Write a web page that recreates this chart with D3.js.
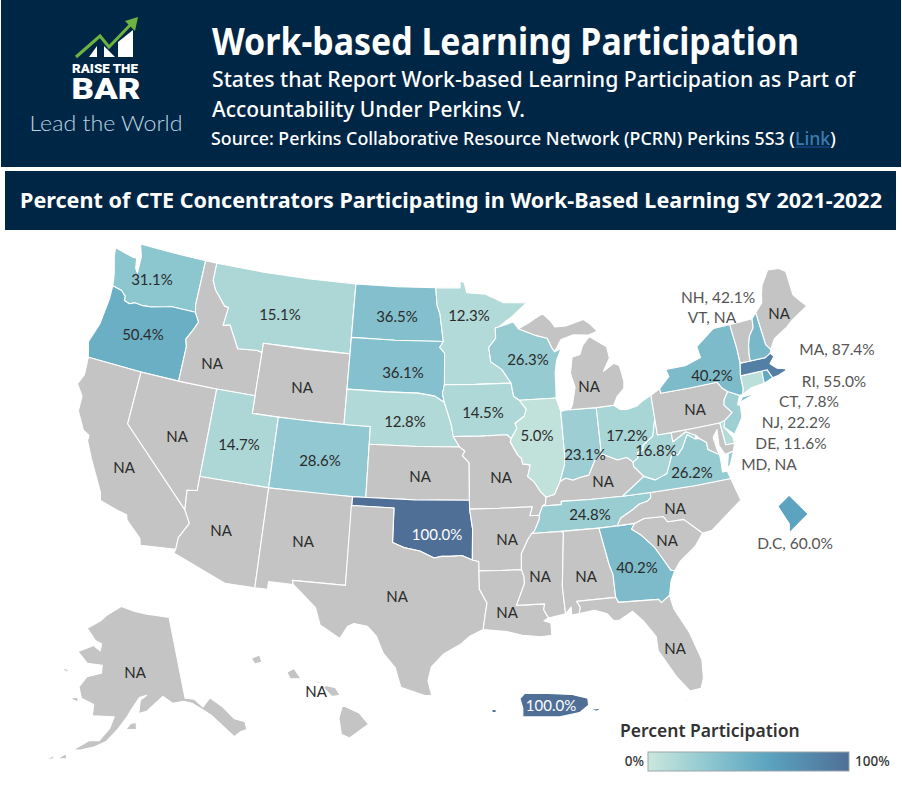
<!DOCTYPE html>
<html><head><meta charset="utf-8">
<script src="https://cdn.jsdelivr.net/npm/d3@7/dist/d3.min.js"></script>
<style>html,body{margin:0;padding:0;background:#fff}svg{display:block}</style>
</head><body><svg id="c" width="902" height="786"></svg>
<script>
// ---- DATA ----
const titleText = "Work-based Learning Participation";
const subtitleLines = ["States that Report Work-based Learning Participation as Part of","Accountability Under Perkins V."];
const chartTitle = "Percent of CTE Concentrators Participating in Work-Based Learning SY 2021-2022";
const legendTitle = "Percent Participation";
const legendTicks = ["0%","100%"];
const stateCodes = ["WA","OR","CA","NV","ID","MT","WY","UT","CO","AZ","NM","ND","SD","NE","KS","OK","TX","MN","IA","MO","AR","LA","WI","IL","IN","OH","KY","TN","MI","MS","AL","GA","FL","SC","NC","VA","WV","PA","MD","DE","NJ","NY","CT","RI","MA","VT","NH","ME","AK","HI","PR","DC"];
const stateValues = [31.1,50.4,null,null,null,15.1,null,14.7,28.6,null,null,36.5,36.1,12.8,null,100,null,12.3,14.5,null,null,null,26.3,5.0,23.1,17.2,null,24.8,null,null,null,40.2,null,null,null,26.2,16.8,null,null,11.6,22.2,40.2,7.8,55.0,87.4,null,42.1,null,null,null,100,60.0];
const outlines = {
WA:[[[-124.7,48.38],[-123.1,48.15],[-122.75,48.15],[-122.6,47.6],[-122.35,47.35],[-122.4,48.3],[-122.76,49],[-120,49],[-117.03,49],[-117.04,46.42],[-116.92,46],[-118.98,46],[-119.3,45.93],[-120.5,45.7],[-121.2,45.65],[-121.9,45.68],[-122.3,45.55],[-122.75,45.65],[-122.8,45.9],[-123.2,46.15],[-124,46.27],[-124.1,46.7],[-124.2,47],[-124.6,47.9]]],
OR:[[[-124,46.27],[-123.2,46.15],[-122.8,45.9],[-122.75,45.65],[-122.3,45.55],[-121.9,45.68],[-121.2,45.65],[-120.5,45.7],[-119.3,45.93],[-118.98,46],[-116.92,46],[-116.5,45.5],[-116.85,44.9],[-117.2,44.4],[-117.03,44],[-117.03,42],[-120,42],[-124.2,42],[-124.55,42.85],[-124.1,44],[-123.95,45.5]]],
CA:[[[-124.2,42],[-120,42],[-120,39],[-114.63,35],[-114.14,34.3],[-114.7,33.4],[-114.72,32.72],[-117.12,32.53],[-117.25,32.9],[-118.4,33.75],[-118.5,34.03],[-119.2,34.15],[-120.5,34.45],[-120.65,34.9],[-121.9,36.6],[-122.5,37.5],[-122.5,37.8],[-123,38],[-123.75,38.95],[-123.8,39.8],[-124.4,40.4],[-124.1,41]]],
NV:[[[-120,42],[-117.03,42],[-114.04,42],[-114.04,37],[-114.04,36.2],[-114.75,36.1],[-114.63,35],[-120,39]]],
ID:[[[-117.03,49],[-116.05,49],[-116.05,48],[-115.7,47.5],[-114.7,46.7],[-114.35,46.65],[-114.5,45.6],[-113.95,45.7],[-113.45,45.05],[-113,44.45],[-111.5,44.55],[-111.05,44.48],[-111.05,42],[-114.04,42],[-117.03,42],[-117.03,44],[-117.2,44.4],[-116.85,44.9],[-116.5,45.5],[-116.92,46],[-117.04,46.42]]],
MT:[[[-116.05,49],[-112,49],[-108,49],[-104.05,49],[-104.05,45.94],[-104.05,45],[-111.05,45],[-111.05,44.48],[-111.5,44.55],[-113,44.45],[-113.45,45.05],[-113.95,45.7],[-114.5,45.6],[-114.35,46.65],[-114.7,46.7],[-115.7,47.5],[-116.05,48]]],
WY:[[[-111.05,45],[-107.5,45],[-104.05,45],[-104.05,41],[-107.5,41],[-111.05,41]]],
UT:[[[-114.04,42],[-111.05,42],[-111.05,41],[-109.05,41],[-109.05,37],[-114.04,37]]],
CO:[[[-109.05,41],[-105.5,41],[-102.05,41],[-102.05,37],[-105.5,37],[-109.05,37]]],
AZ:[[[-114.75,36.1],[-114.04,36.2],[-114.04,37],[-109.05,37],[-109.05,31.33],[-111.07,31.33],[-114.8,32.5],[-114.72,32.72],[-114.7,33.4],[-114.14,34.3],[-114.63,35]]],
NM:[[[-109.05,37],[-103,37],[-103.04,32],[-106.62,32],[-106.53,31.78],[-108.2,31.78],[-108.2,31.33],[-109.05,31.33]]],
ND:[[[-104.05,49],[-100.5,49],[-97.23,49],[-97.1,48],[-96.85,47.5],[-96.56,45.94],[-100.5,45.94],[-104.05,45.94]]],
SD:[[[-104.05,45.94],[-100.5,45.94],[-96.56,45.94],[-96.85,45.6],[-96.45,45.3],[-96.45,43.5],[-96.6,43],[-96.45,42.49],[-97.2,42.85],[-98.5,43],[-101,43],[-104.05,43],[-104.05,45]]],
NE:[[[-104.05,43],[-101,43],[-98.5,43],[-97.2,42.85],[-96.45,42.49],[-96.1,41.7],[-95.9,41.2],[-95.77,40.58],[-95.3,40],[-98.5,40],[-102.05,40],[-102.05,41],[-104.05,41]]],
KS:[[[-102.05,40],[-98.5,40],[-95.3,40],[-94.9,39.75],[-95.1,39.5],[-94.6,39.1],[-94.62,37],[-98.5,37],[-102.05,37]]],
OK:[[[-103,37],[-98.5,37],[-94.62,37],[-94.62,36.5],[-94.43,35.4],[-94.48,33.64],[-95.2,33.9],[-96,33.85],[-96.6,33.85],[-97.1,33.75],[-97.7,33.98],[-98.1,34.13],[-99.2,34.3],[-100,34.56],[-100,36.5],[-103,36.5]]],
TX:[[[-103.04,36.5],[-100,36.5],[-100,34.56],[-99.2,34.3],[-98.1,34.13],[-97.7,33.98],[-97.1,33.75],[-96.6,33.85],[-96,33.85],[-95.2,33.9],[-94.48,33.64],[-94.04,33.55],[-94.04,33.02],[-94.04,31.99],[-93.55,31.2],[-93.7,30.5],[-93.84,29.7],[-94.7,29.35],[-95.3,28.9],[-96.4,28.35],[-97.2,27.6],[-97.4,26.8],[-97.15,25.96],[-97.6,25.95],[-99.1,26.4],[-99.5,27.5],[-100.3,28.3],[-100.8,29.25],[-101.4,29.77],[-102.3,29.88],[-102.7,29.7],[-103.15,28.98],[-104.5,29.65],[-104.9,30.6],[-106.53,31.78],[-106.62,32],[-103.04,32]]],
MN:[[[-97.23,49],[-95.15,49],[-95.15,49.38],[-94.8,49.3],[-94.6,48.72],[-93,48.6],[-91.5,48.08],[-89.6,48],[-90.8,47.3],[-92.01,46.71],[-92.29,46.66],[-92.29,46.07],[-92.88,45.57],[-92.75,44.75],[-91.9,44.3],[-91.22,43.5],[-94,43.5],[-96.45,43.5],[-96.45,45.3],[-96.85,45.6],[-96.56,45.94],[-96.85,47.5],[-97.1,48]]],
IA:[[[-96.45,43.5],[-94,43.5],[-91.22,43.5],[-91.07,42.75],[-90.64,42.51],[-90.15,41.98],[-90.34,41.6],[-91.07,41.23],[-90.95,40.95],[-91.42,40.38],[-91.73,40.61],[-93.7,40.58],[-95.77,40.58],[-95.9,41.2],[-96.1,41.7],[-96.45,42.49],[-96.6,43]]],
MO:[[[-95.77,40.58],[-93.7,40.58],[-91.73,40.61],[-91.42,40.38],[-91.5,40.2],[-91,39.45],[-90.73,39.25],[-90.67,38.93],[-90.12,38.85],[-90.2,38.6],[-90.35,38.2],[-89.9,37.88],[-89.5,37.33],[-89.13,36.98],[-89.2,36.6],[-89.42,36.5],[-89.7,36],[-90.37,36],[-90.15,36.5],[-92.5,36.5],[-94.62,36.5],[-94.62,37],[-94.6,39.1],[-95.1,39.5],[-94.9,39.75],[-95.3,40]]],
AR:[[[-94.62,36.5],[-92.5,36.5],[-90.15,36.5],[-90.37,36],[-89.7,36],[-89.7,35.8],[-90.1,35.13],[-90.3,35],[-90.58,34.7],[-91.1,33.9],[-91.15,33],[-92.5,33],[-94.04,33.02],[-94.04,33.55],[-94.48,33.64],[-94.43,35.4]]],
LA:[[[-94.04,33.02],[-92.5,33],[-91.15,33],[-91,32.6],[-91,32.2],[-91.6,31],[-89.73,31],[-89.82,30.67],[-89.53,30.18],[-89.85,30.05],[-89.4,29.9],[-89.4,29.2],[-90.1,29.15],[-91.3,29.3],[-92.3,29.55],[-93.84,29.7],[-93.7,30.5],[-93.55,31.2],[-94.04,31.99]]],
WI:[[[-92.01,46.71],[-90.8,46.95],[-90.4,46.55],[-89.1,46.13],[-88.1,45.9],[-87.8,45.35],[-87.6,45.1],[-87.05,45.25],[-87.5,44.6],[-87.7,43.9],[-87.75,43],[-87.8,42.49],[-90.64,42.51],[-91.07,42.75],[-91.22,43.5],[-91.9,44.3],[-92.75,44.75],[-92.88,45.57],[-92.29,46.07],[-92.29,46.66]]],
IL:[[[-90.64,42.51],[-87.8,42.49],[-87.53,41.7],[-87.53,39.35],[-87.6,38.7],[-88.03,37.8],[-88.5,37.1],[-89.13,36.98],[-89.5,37.33],[-89.9,37.88],[-90.35,38.2],[-90.2,38.6],[-90.12,38.85],[-90.67,38.93],[-90.73,39.25],[-91,39.45],[-91.5,40.2],[-91.42,40.38],[-90.95,40.95],[-91.07,41.23],[-90.34,41.6],[-90.15,41.98]]],
IN:[[[-87.53,41.7],[-87.2,41.76],[-86.82,41.76],[-84.8,41.72],[-84.82,39.1],[-85.4,38.73],[-85.7,38.3],[-85.9,38],[-86.5,37.93],[-87.1,37.8],[-87.6,37.95],[-88.03,37.8],[-87.6,38.7],[-87.53,39.35]]],
OH:[[[-84.8,41.72],[-83.45,41.73],[-83,41.45],[-82.5,41.4],[-81.7,41.5],[-81.2,41.75],[-80.52,41.98],[-80.52,40.64],[-80.87,39.7],[-81.7,39.25],[-81.75,39],[-82.18,38.9],[-82.2,38.6],[-82.6,38.42],[-83,38.72],[-83.7,38.65],[-84.3,38.9],[-84.82,39.1]]],
KY:[[[-89.13,36.98],[-88.5,37.1],[-88.03,37.8],[-87.6,37.95],[-87.1,37.8],[-86.5,37.93],[-85.9,38],[-85.7,38.3],[-85.4,38.73],[-84.82,39.1],[-84.3,38.9],[-83.7,38.65],[-83,38.72],[-82.6,38.42],[-82.6,38.17],[-81.97,37.54],[-83.68,36.6],[-86,36.63],[-88.07,36.68],[-88.07,36.5],[-89.42,36.5],[-89.2,36.6]]],
TN:[[[-89.7,36],[-89.42,36.5],[-88.07,36.5],[-88.07,36.68],[-86,36.63],[-83.68,36.6],[-81.68,36.59],[-81.7,36.3],[-82,36.13],[-82.6,36.03],[-83.1,35.77],[-84,35.4],[-84.32,34.99],[-85.6,34.98],[-88.2,35],[-90.3,35],[-90.1,35.13],[-89.7,35.8]]],
MI:[[[-86.82,41.76],[-84.8,41.72],[-83.45,41.73],[-83.1,42.2],[-82.5,42.6],[-82.42,43],[-82.6,43.9],[-83,44.07],[-83.9,43.7],[-83.3,44.4],[-83.4,45.05],[-84.7,45.75],[-85.3,45.3],[-85.6,44.8],[-86.25,44.7],[-86.5,43.8],[-86.25,43],[-86.6,42]],[[-90.4,46.55],[-89.1,46.13],[-88.1,45.9],[-87.8,45.35],[-87.6,45.1],[-87,45.75],[-86,45.95],[-84.75,45.85],[-84,46],[-84.5,46.45],[-85,46.75],[-86.5,46.5],[-87.4,46.5],[-87.7,46.85],[-88.4,47.37],[-87.9,47.47],[-88.9,47.1],[-89.5,46.85]]],
MS:[[[-91.15,33],[-91.1,33.9],[-90.58,34.7],[-90.3,35],[-88.2,35],[-88.1,34.9],[-88.47,31.9],[-88.4,30.35],[-89.53,30.18],[-89.82,30.67],[-89.73,31],[-91.6,31],[-91,32.2],[-91,32.6]]],
AL:[[[-88.2,35],[-85.6,34.98],[-85.18,32.87],[-85,32.3],[-85,31],[-87.6,31],[-87.4,30.65],[-87.5,30.3],[-88,30.25],[-88,30.7],[-88.4,30.35],[-88.47,31.9],[-88.1,34.9]]],
GA:[[[-85.6,34.98],[-84.32,34.99],[-83.1,35],[-83.35,34.7],[-82.75,34.3],[-81.95,33.5],[-81.4,32.6],[-81.1,32.1],[-80.85,32.03],[-81.2,31.5],[-81.45,30.7],[-82.05,30.37],[-82.2,30.57],[-84.86,30.7],[-85,31],[-85,32.3],[-85.18,32.87]]],
FL:[[[-87.5,30.3],[-87.4,30.65],[-87.6,31],[-85,31],[-84.86,30.7],[-82.2,30.57],[-82.05,30.37],[-81.45,30.7],[-81.3,29.9],[-80.55,28.45],[-80.05,26.8],[-80.15,25.75],[-80.4,25.2],[-81.1,25.15],[-81.8,26.1],[-82.7,27.7],[-82.7,28.5],[-83.4,29.5],[-84,30.1],[-84.9,29.7],[-85.3,29.7],[-85.7,30.15],[-86.5,30.4]],[[-81.75,24.55],[-80.9,24.72],[-81.3,24.72]]],
SC:[[[-83.1,35],[-82.4,35.2],[-81.05,35.15],[-80.8,34.82],[-79.67,34.8],[-78.55,33.86],[-79.2,33.2],[-80.4,32.5],[-80.85,32.03],[-81.1,32.1],[-81.4,32.6],[-81.95,33.5],[-82.75,34.3],[-83.35,34.7]]],
NC:[[[-84.32,34.99],[-84,35.4],[-83.1,35.77],[-82.6,36.03],[-82,36.13],[-81.7,36.3],[-81.68,36.59],[-78.5,36.55],[-75.87,36.55],[-75.5,35.25],[-76.5,34.7],[-77.9,33.9],[-78.55,33.86],[-79.67,34.8],[-80.8,34.82],[-81.05,35.15],[-82.4,35.2],[-83.1,35]]],
VA:[[[-83.68,36.6],[-81.68,36.59],[-78.5,36.55],[-75.87,36.55],[-76,37],[-76.35,37],[-76.3,37.6],[-76.3,38],[-77.05,38.4],[-77.05,38.8],[-77.5,39.1],[-77.83,39.13],[-78.35,39.45],[-78.87,38.76],[-79.3,38.42],[-79.65,38.6],[-80.3,37.5],[-81.2,37.25],[-81.97,37.54]],[[-75.95,37.15],[-75.65,37.95],[-75.25,38.03],[-75.7,37.3]]],
WV:[[[-82.6,38.42],[-82.6,38.17],[-81.97,37.54],[-81.2,37.25],[-80.3,37.5],[-79.65,38.6],[-79.3,38.42],[-78.87,38.76],[-78.35,39.45],[-77.83,39.13],[-77.72,39.32],[-78.4,39.62],[-79.48,39.2],[-79.48,39.72],[-80.52,39.72],[-80.52,40.64],[-80.87,39.7],[-81.7,39.25],[-81.75,39],[-82.18,38.9],[-82.2,38.6]]],
PA:[[[-80.52,41.98],[-79.76,42.27],[-79.76,42],[-77.5,42],[-75.35,42],[-75.05,41.6],[-74.7,41.36],[-75.1,40.95],[-75.2,40.65],[-74.73,40.15],[-75.4,39.8],[-75.79,39.72],[-78,39.72],[-80.52,39.72]]],
MD:[[[-79.48,39.72],[-78,39.72],[-75.79,39.72],[-75.7,38.46],[-75.05,38.45],[-75.25,38.03],[-75.9,37.95],[-76.2,38.5],[-76.1,39.4],[-76.5,39],[-76.4,38.3],[-76.3,38],[-77.05,38.4],[-77.05,38.8],[-77.5,39.1],[-77.72,39.32],[-78.4,39.62],[-79.48,39.2]]],
DE:[[[-75.79,39.72],[-75.4,39.8],[-75.55,39.45],[-75.08,38.8],[-75.05,38.45],[-75.7,38.46]]],
NJ:[[[-75.4,39.8],[-74.73,40.15],[-75.2,40.65],[-75.1,40.95],[-74.7,41.36],[-73.9,41],[-74.2,40.5],[-74,40.45],[-74.1,39.75],[-74.9,38.93],[-75.55,39.45]]],
NY:[[[-79.76,42.27],[-79.76,42],[-77.5,42],[-75.35,42],[-75.05,41.6],[-74.7,41.36],[-73.9,41],[-73.65,41],[-73.5,41.3],[-73.48,42.05],[-73.27,42.75],[-73.25,43.6],[-73.35,45],[-74.7,45],[-76.3,44.2],[-76.2,43.55],[-77.5,43.27],[-79.05,43.27],[-78.9,42.85]],[[-74,40.6],[-72,41.05],[-72.7,40.9],[-73.7,40.87]]],
CT:[[[-73.65,41],[-73.5,41.3],[-73.48,42.05],[-71.8,42.02],[-71.85,41.32],[-72.9,41.25]]],
RI:[[[-71.8,42.02],[-71.38,42.02],[-71.12,41.5],[-71.85,41.32]]],
MA:[[[-73.48,42.05],[-73.27,42.75],[-72.46,42.73],[-71.3,42.7],[-70.82,42.87],[-70.6,42.65],[-71.05,42.3],[-70.6,41.95],[-70,41.8],[-70.25,42.07],[-69.95,41.7],[-70.65,41.55],[-71.12,41.5],[-71.38,42.02],[-71.8,42.02]]],
VT:[[[-73.35,45],[-71.5,45.01],[-71.6,44.5],[-72.05,44.1],[-72.3,43.6],[-72.45,43],[-72.46,42.73],[-73.27,42.75],[-73.25,43.6]]],
NH:[[[-71.5,45.01],[-71.08,45.3],[-70.98,43.4],[-70.7,43.07],[-70.82,42.87],[-71.3,42.7],[-72.46,42.73],[-72.45,43],[-72.3,43.6],[-72.05,44.1],[-71.6,44.5]]],
ME:[[[-71.08,45.3],[-70.4,45.75],[-70.25,46.2],[-70,46.7],[-69.2,47.45],[-68.3,47.35],[-67.8,47.07],[-67.8,45.7],[-67.45,45.3],[-67,44.85],[-68.5,44.3],[-69.1,44],[-70.2,43.6],[-70.7,43.07],[-70.98,43.4]]],
AK:[[[-141,69.65],[-141,60.3],[-139,60],[-137.5,58.9],[-135.5,59.7],[-133.5,58.4],[-131.8,56.6],[-130,55.9],[-130.2,55],[-131.5,55],[-133,54.7],[-134.5,56.2],[-136.3,57.8],[-137.5,58.5],[-139.7,59.6],[-141.5,60],[-144,60],[-146,60.9],[-148.5,60],[-150,59.4],[-151.8,59.2],[-151.3,60.7],[-149.8,61.2],[-151.5,61],[-153.5,59.6],[-154.3,58.9],[-156.5,57.3],[-158.5,56],[-161,55.2],[-163.5,54.7],[-164.9,54.6],[-162,55.9],[-160,56],[-158,57.5],[-157.2,58.8],[-158.5,58.8],[-162,58.7],[-162,60],[-165,60.5],[-166,61.7],[-164.5,63],[-161,63.6],[-161,64.5],[-165,64.5],[-168,65.6],[-164,66.6],[-162,66.1],[-161.8,66.9],[-163.8,67.2],[-166.7,68.4],[-163,69.5],[-161,70.3],[-156.6,71.35],[-152,70.8],[-148,70.4],[-144,70]],[[-154.6,57.4],[-152.4,57.4],[-152.4,58.2],[-153.6,58.1]],[[-167.4,60.2],[-165.7,60],[-165.7,60.45],[-166.6,60.45]],[[-171.7,63.5],[-168.8,63.3],[-170,63.1]],[[-167.3,53.3],[-165.8,53.5],[-166.2,54],[-167,53.6]],[[-169.9,52.8],[-168.2,53.2],[-168.4,53.5]],[[-171.2,52.25],[-170.4,52.45],[-171,52.5]]],
HI:[[[-155.9,20.25],[-155.2,19.95],[-154.8,19.5],[-155.6,18.95],[-155.95,19.1],[-156.05,19.75]],[[-156.7,20.95],[-156.35,20.6],[-156,20.65],[-156.2,20.95],[-156.6,21.03]],[[-157.3,21.2],[-156.75,21.1],[-156.9,21.2]],[[-158.25,21.55],[-157.95,21.7],[-157.65,21.3],[-158.1,21.3]],[[-159.75,22.1],[-159.4,22.23],[-159.3,21.95],[-159.6,21.88]],[[-160.25,21.85],[-160.05,22],[-160.1,21.9]]],
PR:[[[-67.27,18.37],[-67.15,18.5],[-66.6,18.49],[-66,18.47],[-65.62,18.38],[-65.6,18.22],[-65.82,18.05],[-66.3,17.95],[-66.9,17.95],[-67.2,17.95],[-67.2,18.15]],[[-67.95,18.12],[-67.85,18.12],[-67.85,18.05],[-67.95,18.05]],[[-65.58,18.13],[-65.27,18.15],[-65.4,18.08]],[[-65.33,18.33],[-65.25,18.33],[-65.27,18.29]]],
DC:[[[-77.119,38.934],[-77.041,38.995],[-76.909,38.893],[-77.039,38.79],[-77.04,38.84]]]
};
// ---- LAYOUT ----
const labelPos = {WA:[152,279],OR:[143,334],ID:[212,363],MT:[280,314],WY:[302,387],NV:[177,436],CA:[124,467],UT:[239,444],CO:[320,460],AZ:[221,530],NM:[303,541],ND:[397,316],SD:[403,372],NE:[405,421],KS:[420,476],OK:[437,534],TX:[397,596],MN:[469,315],IA:[483,412],MO:[501,477],AR:[507,539],LA:[507,612],WI:[528,359],IL:[537,435],MI:[589,386],IN:[585,454],OH:[627,435],KY:[603,481],TN:[590,514],MS:[540,576],AL:[586,576],GA:[637,567],FL:[675,648],SC:[667,540],NC:[675,508],VA:[692,472],WV:[656,450],PA:[695,409],NY:[712,375],ME:[779,313],AK:[135,672],HI:[316,691],PR:[551,705]};
const calloutPos = {NH:[718,297],VT:[712,317],MA:[837,349],RI:[834,381],CT:[809,401],NJ:[796,422],DE:[791,443],MD:[769,464],DC:[795,543]};

const svg = d3.select("#c");
const value = code => stateValues[stateCodes.indexOf(code)];
const color = d3.scaleLinear().domain([0,30,60,100]).range(["#cbe7dd","#8ec7d0","#5ba3bf","#4f6f97"]);
const fmt = v => v==null ? "NA" : v.toFixed(1)+"%";
const feature = code => {
  const f = {type:"Feature",id:code,geometry:{type:"MultiPolygon",coordinates:outlines[code].map(r=>[[...r,r[0]]])}};
  f.geometry.coordinates = f.geometry.coordinates.map(p=>{
    const g={type:"Polygon",coordinates:p};
    return d3.geoArea(g)>2*Math.PI ? [p[0].slice().reverse()] : p;
  });
  return f;
};
const albers = d3.geoAlbers().scale(1011).translate([442,470]);
const akProj = d3.geoConicEqualArea().parallels([55,65]).rotate([154,0]).center([0,62]).scale(506).translate([0,0]);
const akRef = akProj([-141,65]);
akProj.translate([177-akRef[0],657.5-akRef[1]]);
const insetPaths = {
  AK:d3.geoPath(akProj),
  HI:d3.geoPath(d3.geoMercator().fitExtent([[237,655],[371,738]],feature("HI"))),
  PR:d3.geoPath(d3.geoMercator().fitExtent([[492,693],[603,717]],feature("PR"))),
  DC:d3.geoPath(d3.geoMercator().fitExtent([[777,495],[809,533]],feature("DC")))
};
const mainPath = d3.geoPath(albers);

// header
svg.append("rect").attr("x",1).attr("y",0).attr("width",900).attr("height",167).attr("fill","#002645");
svg.append("rect").attr("x",5).attr("y",171).attr("width",891).attr("height",59).attr("fill","#002645");
const head = svg.append("g").attr("font-family","'Noto Sans','Open Sans',sans-serif").attr("fill","#fff");
head.append("text").attr("x",212).attr("y",55).attr("font-size",38).attr("font-weight",700).attr("textLength",587).attr("lengthAdjust","spacingAndGlyphs").text(titleText);
head.append("text").attr("x",212).attr("y",87).attr("font-size",22).attr("font-weight",500).attr("textLength",643).attr("lengthAdjust","spacingAndGlyphs").text(subtitleLines[0]);
head.append("text").attr("x",212).attr("y",117).attr("font-size",22).attr("font-weight",500).attr("textLength",313).attr("lengthAdjust","spacingAndGlyphs").text(subtitleLines[1]);
const src = head.append("text").attr("x",211).attr("y",145).attr("font-size",17.8).attr("font-weight",500);
src.append("tspan").text("Source: Perkins Collaborative Resource Network (PCRN) Perkins 5S3 (");
src.append("tspan").attr("fill","#3b7db0").text("Link");
src.append("tspan").text(")");
const srcText = src.text(), linkAt = srcText.indexOf("Link");
const srcNode = src.node();
head.append("line").attr("x1",srcNode.getStartPositionOfChar(linkAt).x).attr("x2",srcNode.getEndPositionOfChar(linkAt+3).x).attr("y1",147).attr("y2",147).attr("stroke","#1f4fa0").attr("stroke-width",1);
head.append("text").attr("x",451).attr("y",208).attr("text-anchor","middle").attr("font-size",22).attr("font-weight",700).attr("textLength",862).attr("lengthAdjust","spacingAndGlyphs").text(chartTitle);

// logo
const logo = svg.append("g");
[[[89,57],[97,46],[97,57]],[[104,57],[104,46],[115,57]],[[118,57],[118,42],[133,30],[133,57]]].forEach(p=>logo.append("polygon").attr("points",p.join(" ")).attr("fill","#fff"));
logo.append("polyline").attr("points","76,57 100,36 109,47 134,21").attr("fill","none").attr("stroke","#6db33f").attr("stroke-width",3);
logo.append("polygon").attr("points","138,17 125,21 135,31").attr("fill","#6db33f");
logo.append("text").attr("x",105).attr("y",73).attr("text-anchor","middle").attr("font-family","Roboto,sans-serif").attr("font-weight",900).attr("font-size",13.5).attr("fill","#fff").attr("textLength",66).attr("lengthAdjust","spacingAndGlyphs").text("RAISE THE");
logo.append("text").attr("x",106).attr("y",99).attr("text-anchor","middle").attr("font-family","Roboto,sans-serif").attr("font-weight",900).attr("font-size",29).attr("fill","#fff").attr("textLength",69).attr("lengthAdjust","spacingAndGlyphs").text("BAR");
logo.append("text").attr("x",106).attr("y",131).attr("text-anchor","middle").attr("font-family","Lato,sans-serif").attr("font-weight",300).attr("font-size",21.5).attr("fill","#bcd3e2").attr("textLength",153).attr("lengthAdjust","spacingAndGlyphs").text("Lead the World");

// map
const map = svg.append("g");
map.selectAll("path").data(stateCodes).join("path")
  .attr("d",c=>(insetPaths[c]||mainPath)(feature(c)))
  .attr("fill",c=>value(c)==null?"#c4c4c4":color(value(c)))
  .attr("stroke","#fff").attr("stroke-width",1.1).attr("stroke-linejoin","round");

// labels
const labels = svg.append("g").attr("font-family","Lato,sans-serif").attr("font-size",15).attr("text-anchor","middle").attr("dominant-baseline","central");
labels.selectAll("text.s").data(Object.keys(labelPos)).join("text").attr("class","s")
  .attr("x",c=>labelPos[c][0]).attr("y",c=>labelPos[c][1])
  .attr("fill",c=>value(c)===100?"#fff":"#2b2b2b").text(c=>fmt(value(c)));
labels.selectAll("text.c").data(Object.keys(calloutPos)).join("text").attr("class","c")
  .attr("x",c=>calloutPos[c][0]).attr("y",c=>calloutPos[c][1]).attr("fill","#555").attr("font-size",15.5)
  .text(c=>(c==="DC"?"D.C":c)+", "+fmt(value(c)));

// legend
const defs = svg.append("defs");
const grad = defs.append("linearGradient").attr("id","lg");
color.domain().forEach(d=>grad.append("stop").attr("offset",d+"%").attr("stop-color",color(d)));
const lx = d3.scaleLinear().domain([0,100]).range([648,849]);
svg.append("rect").attr("x",lx(0)).attr("y",752).attr("width",lx(100)-lx(0)).attr("height",19).attr("fill","url(#lg)").attr("stroke","#9aa5a8");
const lg = svg.append("g").attr("font-family","'Noto Sans',sans-serif").attr("fill","#333");
lg.append("text").attr("x",620).attr("y",737).attr("font-size",17.5).attr("font-weight",600).text(legendTitle);
lg.append("text").attr("x",644).attr("y",766).attr("text-anchor","end").attr("font-size",13.5).attr("font-weight",500).text(legendTicks[0]);
lg.append("text").attr("x",855).attr("y",766).attr("font-size",13.5).attr("font-weight",500).text(legendTicks[1]);
</script></body></html>
